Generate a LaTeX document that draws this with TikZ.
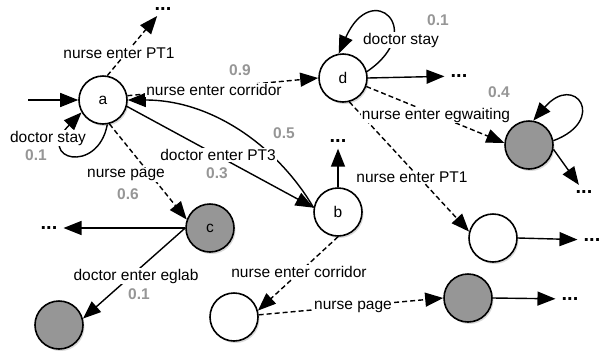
\documentclass[tikz,border=0pt]{standalone}
\usepackage{fontspec}
\setmainfont{Liberation Sans}
\usetikzlibrary{arrows.meta,shadows}
\definecolor{nodegray}{RGB}{150,150,150}
\definecolor{numgray}{RGB}{150,150,150}
\tikzset{
 state/.style={circle, draw, line width=1.6pt, minimum size=48pt, inner sep=0pt, fill=white,
   font=\fontsize{15.5}{18}\selectfont,
   drop shadow={opacity=0.3, shadow xshift=1.5pt, shadow yshift=-2pt}},
 grstate/.style={state, fill=nodegray},
 tr/.style={line width=1.4pt, -{Triangle[length=18pt,width=14pt]}},
 dtr/.style={tr, dash pattern=on 5pt off 3pt},
 todots/.style={shorten >=3pt},
 lbl/.style={fill=white, inner sep=1pt, font=\fontsize{15.5}{18}\selectfont},
 num/.style={text=numgray, inner sep=1pt, font=\fontsize{15.5}{18}\selectfont\bfseries},
 dots/.style={inner sep=3pt, font=\fontsize{20}{22}\selectfont\bfseries},
}
\begin{document}
\begin{tikzpicture}[x=1pt,y=-1pt]
\useasboundingbox (0,0) rectangle (604,354);
% states
\node[state] (a) at (103,100) {a};
\node[state] (b) at (338,212) {b};
\node[grstate] (c) at (210,228) {c};
\node[state] (d) at (343,78) {d};
\node[grstate] (e) at (529,145) {};
\node[state] (f) at (493,238) {};
\node[grstate] (g) at (468,298) {};
\node[state] (h) at (234,317) {};
\node[grstate] (k) at (59,325) {};
\coordinate (init) at (28,100);
% continuation marks
\node[dots] (dA) at (163,9) {...};
\node[dots] (dC) at (49,228) {...};
\node[dots] (dB) at (338,141) {...};
\node[dots] (dD) at (459,76) {...};
\node[dots] (dE) at (584,192) {...};
\node[dots] (dF) at (592,240) {...};
\node[dots] (dG) at (570,299) {...};
% connectors
\draw[tr] (init) -- (a.west);
\draw[tr] (a.-80) .. controls (98,175) and (35,160) .. (a.-150);
\draw[dtr,todots] (a.80) -- (dA);
\draw[dtr] (a.10) -- (d.west);
\draw[tr] (a.-15) -- (b.170);
\draw[tr] (b.170) .. controls (280,150) and (215,100) .. (a.east);
\draw[dtr] (a.-75) -- (c.160);
\draw[tr,todots] (c.west) -- (dC);
\draw[tr] (c.west) -- (k.15);
\draw[tr,todots] (b.north) -- (dB);
\draw[dtr] (b.south) -- (h.15);
\draw[dtr] (h.5) -- (g.west);
\draw[tr,todots] (g.east) -- (dG);
\draw[tr] (d.15) .. controls (428,30) and (372,-22) .. (d.100);
\draw[tr,todots] (d.east) -- (dD);
\draw[dtr] (d.-20) -- (e.175);
\draw[dtr] (d.-75) -- (f.165);
\draw[tr,todots] (f.east) -- (dF);
\draw[tr] (e.10) .. controls (608,120) and (575,72) .. (e.80);
\draw[tr,todots] (e.-10) -- (dE);
% labels
\node[lbl] (l1) at (119,53) {nurse enter PT1};
\node[lbl] (l2) at (48,138) {doctor stay};
\node[num] (n2) at (36,155) {0.1};
\node[lbl] (l3) at (214,90) {nurse enter corridor};
\node[num] (n3) at (240,70) {0.9};
\node[lbl] (l4) at (218,155) {doctor enter PT3};
\node[num] (n4) at (217,173) {0.3};
\node[num] (n5) at (284,133) {0.5};
\node[lbl] (l6) at (126,175) {nurse page};
\node[num] (n6) at (128,194) {0.6};
\node[lbl] (l7) at (136,276) {doctor enter eglab};
\node[num] (n7) at (139,294) {0.1};
\node[lbl] (l8) at (401,40) {doctor stay};
\node[num] (n8) at (438,20) {0.1};
\node[lbl] (l9) at (436,115) {nurse enter egwaiting};
\node[num] (n9) at (499,92) {0.4};
\node[lbl] (l10) at (412,177) {nurse enter PT1};
\node[lbl] (l11) at (299,272) {nurse enter corridor};
\node[lbl] (l12) at (353,307) {nurse page};
\end{tikzpicture}
\end{document}
